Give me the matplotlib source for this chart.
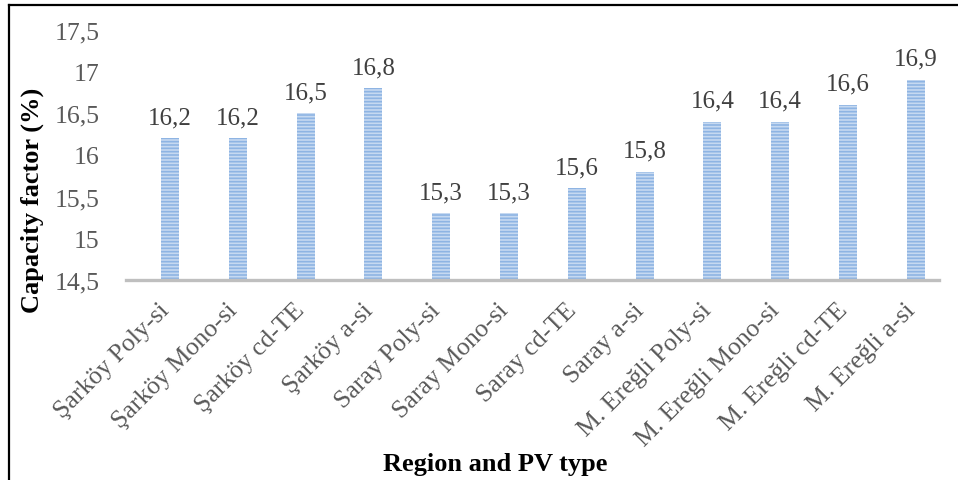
import matplotlib
matplotlib.use("Agg")
import matplotlib.pyplot as plt
import matplotlib.transforms as mtransforms
from matplotlib.lines import Line2D

plt.rcParams['font.family'] = ['Liberation Serif', 'DejaVu Serif']
plt.rcParams['hatch.linewidth'] = 1.2

categories = ["Şarköy Poly-si", "Şarköy Mono-si", "Şarköy cd-TE", "Şarköy a-si",
              "Saray Poly-si", "Saray Mono-si", "Saray cd-TE", "Saray a-si",
              "M. Ereğli Poly-si", "M. Ereğli Mono-si", "M. Ereğli cd-TE", "M. Ereğli a-si"]
capacity_factor = [16.2, 16.2, 16.5, 16.8, 15.3, 15.3, 15.6, 15.8, 16.4, 16.4, 16.6, 16.9]
y_ticks = [14.5, 15.0, 15.5, 16.0, 16.5, 17.0, 17.5]


def comma(v):
    return f"{v:g}".replace('.', ',')


fig = plt.figure(figsize=(9.58, 4.81), dpi=100)
ax = fig.add_axes([126 / 958, 1 - 281 / 481, (939 - 126) / 958, (281 - 31) / 481])

x = list(range(len(categories)))
ax.bar(x, [v - 14.5 for v in capacity_factor], bottom=14.5, width=0.265,
       color='#c6d9f1', edgecolor='#8eb4e3', linewidth=0, hatch='-----')

for xi, v in zip(x, capacity_factor):
    ax.annotate(comma(v), (xi, v), xytext=(0, 11), textcoords='offset points',
                ha='center', va='baseline', fontsize=18, color='#404040')

ax.set_ylim(14.5, 17.5)
ax.set_xlim(-0.647, 11.34)
ax.set_yticks(y_ticks)
ax.set_yticklabels([comma(v) for v in y_ticks])
ax.set_xticks(x)
ax.set_xticklabels(categories, rotation=45, ha='right', va='center',
                   rotation_mode='anchor')

for s in ['top', 'right', 'left']:
    ax.spines[s].set_visible(False)
ax.spines['bottom'].set_color('#bfbfbf')
ax.spines['bottom'].set_linewidth(2.4)
ax.tick_params(axis='both', length=0, labelsize=18.5, labelcolor='#595959')
ax.tick_params(axis='y', pad=19)
ax.tick_params(axis='x', pad=19)

# nudge category labels slightly left of their bars
shift = mtransforms.ScaledTranslation(-4 / 100, 0, fig.dpi_scale_trans)
for lbl in ax.get_xticklabels():
    lbl.set_transform(lbl.get_transform() + shift)

fig.text(32 / 958, 1 - 200 / 481, 'Capacity factor (%)', rotation=90,
         ha='center', va='center', fontsize=19, fontweight='bold')
fig.text(495 / 958, 1 - 465 / 481, 'Region and PV type',
         ha='center', va='center', fontsize=19, fontweight='bold')

# frame lines along the top and left edges
fig.add_artist(Line2D([8.5 / 958, 1.0], [1 - 5.5 / 481, 1 - 5.5 / 481],
                      transform=fig.transFigure, color='black', linewidth=1.6))
fig.add_artist(Line2D([8.5 / 958, 8.5 / 958], [0, 1 - 5.5 / 481],
                      transform=fig.transFigure, color='black', linewidth=1.6))

fig.savefig('out.png', dpi=100)
